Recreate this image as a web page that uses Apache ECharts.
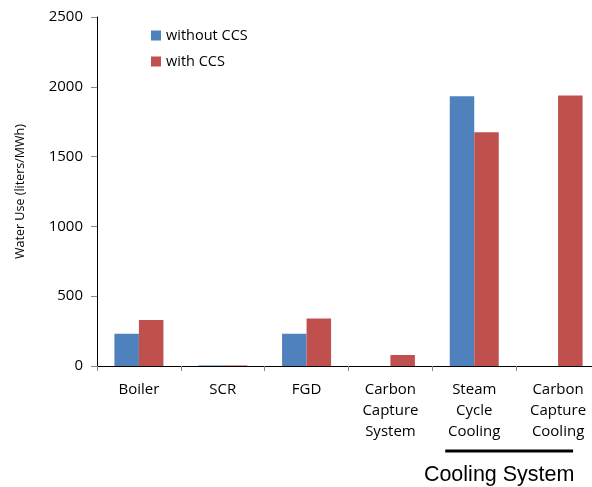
<!DOCTYPE html>
<html>
<head>
<meta charset="utf-8">
<script src="https://cdn.jsdelivr.net/npm/echarts@6/dist/echarts.min.js"></script>
<style>
  html, body { margin: 0; padding: 0; background: #fff; overflow: hidden; }
  #chart { width: 592px; height: 487px; }
</style>
</head>
<body>
<div id="chart"></div>
<script>
// Water use by plant component, liters per MWh
const categories = ['Boiler', 'SCR', 'FGD', 'Carbon\nCapture\nSystem', 'Steam\nCycle\nCooling', 'Carbon\nCapture\nCooling'];
const withoutCCS = [231, 4, 231, 0, 1933, 0];
const withCCS = [329, 4, 341, 79, 1675, 1938];
const seriesNames = ['without CCS', 'with CCS'];
const yTicks = { min: 0, max: 2500, interval: 500 };
const groupLabel = 'Cooling System';

const FONT = '"Open Sans", sans-serif';
const chart = echarts.init(document.getElementById('chart'), null, { renderer: 'canvas' });

chart.setOption({
  animation: false,
  textStyle: { fontFamily: FONT },
  // plot area runs a little past the right edge of the canvas
  grid: {
    left: 97, width: 503, top: 17, bottom: 121,
    containLabel: false,
    outerBoundsMode: 'none'
  },
  legend: {
    orient: 'vertical',
    left: 146,
    top: 23,
    icon: 'rect',
    itemWidth: 10,
    itemHeight: 10,
    itemGap: 11,
    textStyle: { fontFamily: FONT, fontSize: 14.5, color: '#000' },
    data: seriesNames
  },
  xAxis: {
    type: 'category',
    data: categories,
    axisLine: { lineStyle: { color: '#000', width: 1 } },
    axisTick: { show: true, length: 5, lineStyle: { color: '#888' } },
    axisLabel: {
      interval: 0,
      margin: 13,
      fontSize: 15,
      lineHeight: 21,
      color: '#000',
      fontFamily: FONT
    }
  },
  yAxis: {
    type: 'value',
    min: yTicks.min,
    max: yTicks.max,
    interval: yTicks.interval,
    name: 'Water Use (liters/MWh)',
    nameLocation: 'middle',
    nameGap: 70,
    nameTextStyle: { fontSize: 12.5, color: '#000', fontFamily: FONT },
    axisLine: { show: true, lineStyle: { color: '#000', width: 1 } },
    axisTick: { show: true, length: 6, lineStyle: { color: '#888' } },
    axisLabel: {
      fontSize: 15,
      color: '#000',
      margin: 14,
      fontFamily: FONT,
      formatter: v => String(v)
    },
    splitLine: { show: false }
  },
  series: [
    {
      name: seriesNames[0],
      type: 'bar',
      data: withoutCCS,
      barWidth: 24.5,
      barGap: '0%',
      itemStyle: { color: '#4F81BD' }
    },
    {
      name: seriesNames[1],
      type: 'bar',
      data: withCCS,
      barWidth: 24.5,
      barGap: '0%',
      itemStyle: { color: '#C0504D' }
    }
  ]
});

// Bracket under the two cooling categories, placed from the axis scale
const xSteam = chart.convertToPixel({ xAxisIndex: 0 }, categories[4]);
const xCapCool = chart.convertToPixel({ xAxisIndex: 0 }, categories[5]);
const lineLeft = xSteam - 29;
const lineRight = xCapCool + 15;
chart.setOption({
  graphic: [
    {
      type: 'line',
      shape: { x1: lineLeft, y1: 451, x2: lineRight, y2: 451 },
      style: { stroke: '#000', lineWidth: 3 }
    },
    {
      type: 'text',
      x: (lineLeft + lineRight) / 2 - 10,
      y: 475,
      style: {
        text: groupLabel,
        fontFamily: '"Liberation Sans", Arial, sans-serif',
        fontSize: 21.5,
        fill: '#000',
        align: 'center',
        verticalAlign: 'middle'
      }
    }
  ]
});
</script>
</body>
</html>
